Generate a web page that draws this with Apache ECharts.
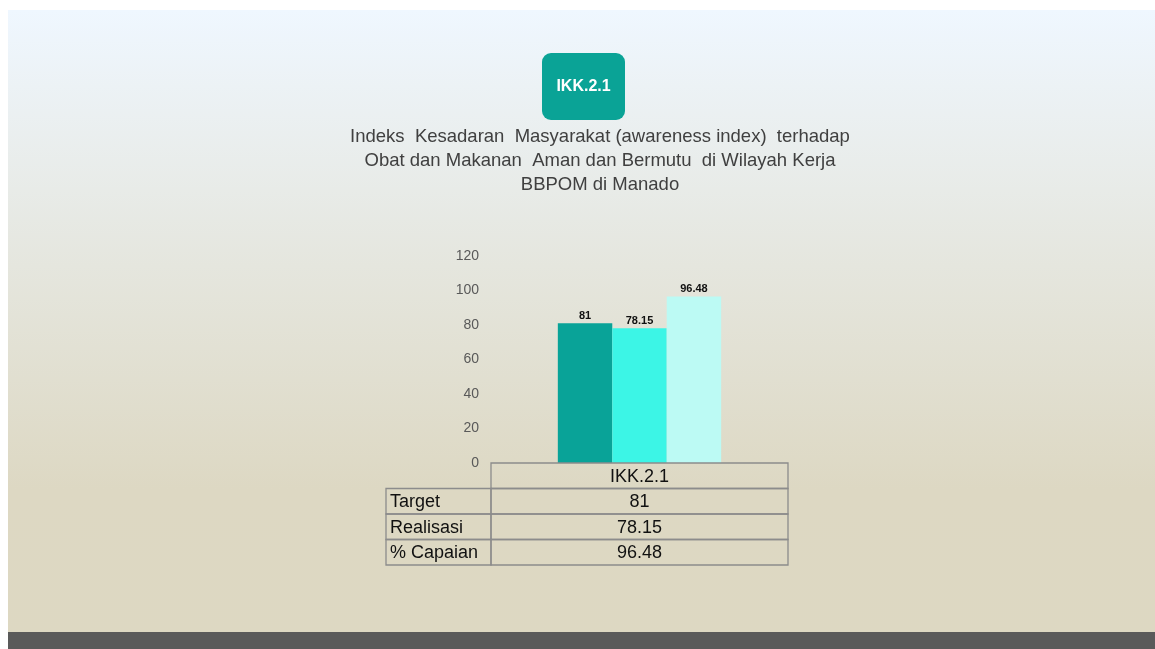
<!DOCTYPE html>
<html>
<head>
<meta charset="utf-8">
<script src="https://cdn.jsdelivr.net/npm/echarts@6.0.0/dist/echarts.min.js"></script>
<style>
  html, body { margin: 0; padding: 0; background: #fff; }
  #chart { width: 1155px; height: 649px; }
</style>
</head>
<body>
<div id="chart"></div>
<script>
// data
const categories = ['IKK.2.1'];
const seriesNames = ['Target', 'Realisasi', '% Capaian'];
const target = [81];
const realisasi = [78.15];
const capaian = [96.48];
const seriesValues = [target, realisasi, capaian];
const barColors = ['#09a398', '#3cf5e6', '#bcfaf4'];
const yMax = 120;
const yStep = 20;

const titleLines = [
  'Indeks  Kesadaran  Masyarakat (awareness index)  terhadap',
  'Obat dan Makanan  Aman dan Bermutu  di Wilayah Kerja',
  'BBPOM di Manado'
];

// grid box (px)
const gLeft = 491, gRight = 788, gTop = 256, gBottom = 463;
const tableLeft = 386, rowH = 25.5;

let chart = echarts.init(document.getElementById('chart'));

// table built from the same arrays
let tableEls = [];
let border = { fill: 'none', stroke: '#8c8c8c', lineWidth: 1.3 };
let cellFont = { fill: '#111', fontSize: 18, fontFamily: 'Liberation Sans, Arial', verticalAlign: 'middle' };
tableEls.push({
  type: 'rect', shape: { x: gLeft, y: gBottom, width: gRight - gLeft, height: rowH },
  style: border, z: 10
});
tableEls.push({
  type: 'text', x: (gLeft + gRight) / 2, y: gBottom + rowH / 2 + 1,
  style: Object.assign({ text: categories[0], align: 'center' }, cellFont), z: 10
});
seriesNames.forEach(function (name, i) {
  let y = gBottom + rowH * (i + 1);
  tableEls.push({
    type: 'rect', shape: { x: tableLeft, y: y, width: gLeft - tableLeft, height: rowH },
    style: border, z: 10
  });
  tableEls.push({
    type: 'rect', shape: { x: gLeft, y: y, width: gRight - gLeft, height: rowH },
    style: border, z: 10
  });
  tableEls.push({
    type: 'text', x: tableLeft + 4, y: y + rowH / 2 + 1,
    style: Object.assign({ text: name, align: 'left' }, cellFont), z: 10
  });
  tableEls.push({
    type: 'text', x: (gLeft + gRight) / 2, y: y + rowH / 2 + 1,
    style: Object.assign({ text: String(seriesValues[i][0]), align: 'center' }, cellFont), z: 10
  });
});

let option = {
  animation: false,
  textStyle: { fontFamily: 'Liberation Sans, Arial, sans-serif' },
  graphic: [
    {
      type: 'rect', shape: { x: 8, y: 10, width: 1147, height: 639 }, z: -10,
      style: {
        fill: new echarts.graphic.LinearGradient(0, 0, 0, 1, [
          { offset: 0, color: '#eff7ff' },
          { offset: 0.4, color: '#e5e6de' },
          { offset: 0.75, color: '#ddd8c3' },
          { offset: 1, color: '#ddd8c2' }
        ])
      }
    },
    { type: 'rect', shape: { x: 8, y: 632, width: 1147, height: 17 }, style: { fill: '#5a5a5a' }, z: -9 },
    { type: 'rect', shape: { x: 542, y: 53, width: 83, height: 67, r: 9 }, style: { fill: '#0aa396' } },
    {
      type: 'text', x: 583.5, y: 87,
      style: { text: categories[0], fill: '#fff', fontSize: 16, fontWeight: 'bold', fontFamily: 'Liberation Sans, Arial', align: 'center', verticalAlign: 'middle' }
    },
    {
      type: 'text', x: 600, y: 125,
      style: {
        text: titleLines.join('\n'), fill: '#404040', fontSize: 18.5, lineHeight: 24,
        fontFamily: 'Liberation Sans, Arial', align: 'center', verticalAlign: 'top'
      }
    }
  ].concat(tableEls),
  grid: { left: gLeft, right: 1155 - gRight, top: gTop, bottom: 649 - gBottom, containLabel: false },
  xAxis: {
    type: 'category',
    data: categories,
    axisLine: { show: false },
    axisTick: { show: false },
    axisLabel: { show: false }
  },
  yAxis: {
    type: 'value',
    min: 0, max: yMax, interval: yStep,
    axisLine: { show: false },
    axisTick: { show: false },
    splitLine: { show: false },
    axisLabel: { color: '#595959', fontSize: 14, margin: 12, fontFamily: 'Liberation Sans, Arial' }
  },
  series: seriesNames.map(function (name, i) {
    return {
      name: name,
      type: 'bar',
      data: seriesValues[i],
      barGap: '0%',
      barCategoryGap: '45%',
      itemStyle: { color: barColors[i] },
      label: {
        show: true, position: 'top', distance: 2,
        color: '#111', fontSize: 11, fontWeight: 'bold',
        fontFamily: 'Liberation Sans Narrow, Arial Narrow, Liberation Sans'
      }
    };
  })
};

chart.setOption(option);
</script>
</body>
</html>
